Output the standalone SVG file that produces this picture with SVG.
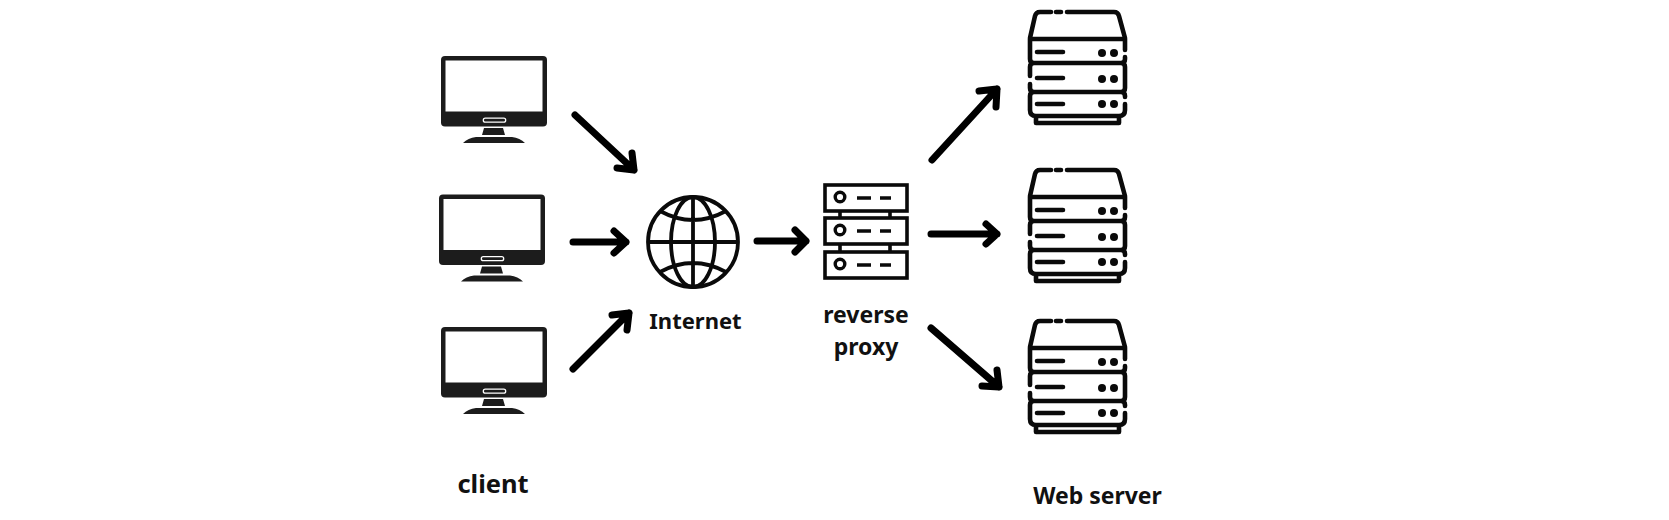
<svg xmlns="http://www.w3.org/2000/svg" width="1669" height="520" viewBox="0 0 1669 520">
<style>
text{font-family:"Noto Sans","Open Sans","Liberation Sans",sans-serif;font-weight:700;fill:#111;text-anchor:middle}
.a{fill:none;stroke:#000;stroke-width:7;stroke-linecap:round;stroke-linejoin:round}
.s{fill:none;stroke:#0a0a0a;stroke-width:4.600;stroke-linecap:round;stroke-linejoin:round}
.g{fill:none;stroke:#0a0a0a;stroke-width:3.800}
.p{fill:none;stroke:#0a0a0a;stroke-width:3.600}
</style>
<defs>
<g id="monitor">
<rect x="441" y="56" width="106" height="70.500" rx="4" fill="#1c1c1c"/>
<rect x="445.500" y="60.500" width="97" height="51" fill="#fff"/>
<rect x="483.300" y="118.200" width="22.400" height="4" rx="2" fill="none" stroke="#fff" stroke-width="1.300"/>
<path d="M484 128h19l2 7h-23zM476 137h36q8 1 13 6h-62q5-5 13-6z" fill="#1c1c1c"/>
</g>
<g id="server">
<path class="s" d="M1051 12H1040Q1036 12 1035 16L1030 38M1061 12H1056M1067 12H1114Q1118 12 1119 16L1125 38"/>
<path class="s" d="M1030 39H1125M1030 39V59Q1030 63 1034 63Q1030 63 1030 67V76M1030 84V88Q1030 92 1034 92Q1030 92 1030 96V110Q1030 116 1036 116H1119Q1125 116 1125 110V104M1125 39V50M1125 57V59Q1125 63 1121 63Q1125 63 1125 67V88Q1125 92 1121 92Q1125 92 1125 96V97M1034 63H1121M1034 92H1121M1036 117V123H1119V117"/>
<path class="s" d="M1037 52H1063M1037 78H1063M1037 104H1063"/>
<g fill="#0a0a0a"><circle cx="1102" cy="53" r="4"/><circle cx="1114" cy="53" r="4"/><circle cx="1102" cy="79" r="4"/><circle cx="1114" cy="79" r="4"/><circle cx="1102" cy="104" r="4"/><circle cx="1114" cy="104" r="4"/></g>
</g>
</defs>
<rect width="1669" height="520" fill="#fff"/>
<g id="connectors">
<path class="a" d="M575 115L634 170M632 153L634 170L617 168"/>
<path class="a" d="M573 242H626M614 231L626 242L614 253"/>
<path class="a" d="M573 369L629 313M612 315L629 313L627 330"/>
<path class="a" d="M757 241H806M795 230L806 241L795 252"/>
<path class="a" d="M932 160L997 89M979 91L997 89L996 107"/>
<path class="a" d="M931 234H997M986 224L997 234L986 244"/>
<path class="a" d="M931 328L999 387M982 386L999 387L997 370"/>
</g>
<g id="client-1"><use href="#monitor"/></g>
<g id="client-2"><use href="#monitor" x="-2" y="138.500"/></g>
<g id="client-3"><use href="#monitor" y="271"/></g>
<g id="client-label"><text x="493" y="493" font-size="25.500">client</text></g>
<g id="internet">
<circle class="g" cx="693" cy="242" r="45"/>
<ellipse class="g" cx="693" cy="242" rx="22" ry="45"/>
<path class="g" d="M693 197V287M648 242H738M660 211Q693 229 726 211M660 272Q693 254 726 272"/>
<text x="695.500" y="329" font-size="22">Internet</text>
</g>
<g id="reverse-proxy">
<rect class="p" x="825" y="185" width="82" height="26"/>
<rect class="p" x="825" y="218" width="82" height="26"/>
<rect class="p" x="825" y="252" width="82" height="26"/>
<path class="p" d="M840 211V218M890 211V218M840 244V252M890 244V252"/>
<g fill="none" stroke="#0a0a0a" stroke-width="3.400"><circle cx="840" cy="197" r="4.800"/><circle cx="840" cy="230" r="4.800"/><circle cx="840" cy="264" r="4.800"/></g>
<path class="p" d="M857 198H871M880 198H891M857 231H871M880 231H891M857 265H871M880 265H891"/>
<text x="866" y="323" font-size="23">reverse</text>
<text x="866" y="355" font-size="23">proxy</text>
</g>
<g id="web-server-1"><use href="#server"/></g>
<g id="web-server-2"><use href="#server" y="158"/></g>
<g id="web-server-3"><use href="#server" y="309"/></g>
<g id="web-server-label"><text x="1097.500" y="504" font-size="23">Web server</text></g>
</svg>
